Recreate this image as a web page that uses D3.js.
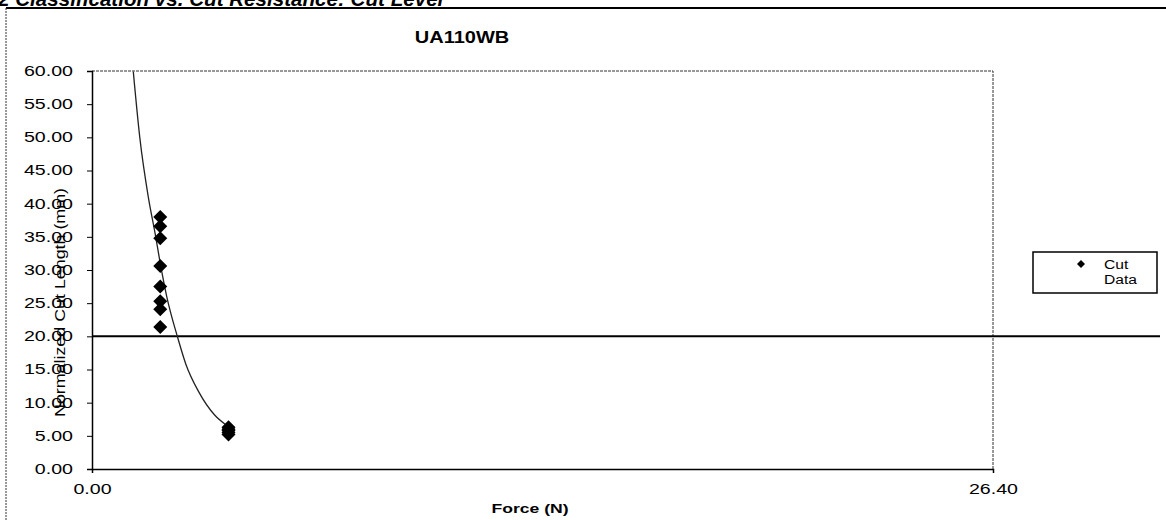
<!DOCTYPE html>
<html>
<head>
<meta charset="utf-8">
<script src="https://cdn.jsdelivr.net/npm/d3@7"></script>
<style>
  body { margin: 0; background: #fff; }
  svg { display: block; font-family: "Liberation Sans", Arial, sans-serif; }
</style>
</head>
<body>
<svg id="chart" width="1166" height="520"></svg>
<script>
// cut data
const cutForce = [2.0, 2.0, 2.0, 2.0, 2.0, 2.0, 2.0, 2.0, 4.0, 4.0, 4.0, 4.0, 4.0];
const cutLength = [38.0, 36.6, 34.8, 30.6, 27.5, 25.3, 24.1, 21.4, 6.3, 6.0, 5.8, 5.5, 5.2];

// fitted curve, points
const fitForce = [1.21, 1.4, 1.65, 1.85, 2.0, 2.19, 2.5, 2.75, 3.12, 3.6, 3.94];
const fitLength = [59.9, 50.0, 41.0, 35.5, 31.0, 26.0, 20.0, 15.8, 11.7, 8.1, 6.6];

const yTicks = [0, 5, 10, 15, 20, 25, 30, 35, 40, 45, 50, 55, 60];
const xTicks = [0, 26.4];
const threshold = 20;

const svg = d3.select("#chart");
const plot = { left: 92, top: 71, right: 993, bottom: 469 };

const x = d3.scaleLinear().domain([0, 26.4]).range([plot.left, plot.right]);
const y = d3.scaleLinear().domain([0, 60]).range([plot.bottom, plot.top]);

// stretch text horizontally like the scanned page
function stretch(sel, k) {
  sel.each(function() {
    const w = this.getComputedTextLength();
    this.setAttribute("textLength", w * k);
    this.setAttribute("lengthAdjust", "spacingAndGlyphs");
  });
}

// page header, cut off at the top like the scan
svg.append("text")
  .attr("x", -2).attr("y", 6)
  .attr("font-size", 20).attr("font-weight", "bold").attr("font-style", "italic")
  .text("2 Classification  vs. Cut Resistance:  Cut Level")
  .call(stretch, 1.03);

// outer frame
svg.append("line").attr("x1", 6).attr("x2", 1166).attr("y1", 8).attr("y2", 8)
  .attr("stroke", "#000").attr("stroke-width", 2);
svg.append("line").attr("x1", 6).attr("x2", 6).attr("y1", 8).attr("y2", 520)
  .attr("stroke", "#333").attr("stroke-dasharray", "2,1");

// plot frame (top and right)
svg.append("path")
  .attr("d", `M${plot.left},${plot.top}H${plot.right}V${plot.bottom}`)
  .attr("fill", "none").attr("stroke", "#333").attr("stroke-dasharray", "3,1");

// title
svg.append("text")
  .attr("x", 462).attr("y", 43)
  .attr("text-anchor", "middle")
  .attr("font-size", 16).attr("font-weight", "bold")
  .text("UA110WB")
  .call(stretch, 1.25);

// axes
const yAxis = svg.append("g")
  .attr("transform", `translate(${plot.left},0)`)
  .call(d3.axisLeft(y).tickValues(yTicks).tickFormat(d3.format(".2f")).tickSize(5).tickPadding(14));
yAxis.select(".domain").attr("stroke-width", 1.5);
yAxis.selectAll("text").attr("font-size", 14).attr("fill", "#000").call(stretch, 1.4);

const xAxis = svg.append("g")
  .attr("transform", `translate(0,${plot.bottom})`)
  .call(d3.axisBottom(x).tickValues(xTicks).tickFormat(d3.format(".2f")).tickSize(4).tickPadding(11));
xAxis.select(".domain").attr("stroke-width", 1.5);
xAxis.selectAll("text").attr("font-size", 14).attr("fill", "#000").call(stretch, 1.4);
svg.selectAll(".domain, .tick line").attr("stroke", "#000");

// axis titles
svg.append("text")
  .attr("x", 530).attr("y", 513)
  .attr("text-anchor", "middle")
  .attr("font-size", 13).attr("font-weight", "bold")
  .text("Force (N)")
  .call(stretch, 1.35);

svg.append("text")
  .attr("transform", "translate(65,417) rotate(-90)")
  .attr("font-size", 15)
  .attr("textLength", 229).attr("lengthAdjust", "spacingAndGlyphs")
  .text("Normalized Cut Length (mm)");

// threshold line
svg.append("line")
  .attr("x1", x(0)).attr("x2", 1160)
  .attr("y1", y(threshold)).attr("y2", y(threshold))
  .attr("stroke", "#000").attr("stroke-width", 2);

// fitted curve
const fit = fitForce.map((f, i) => [f, fitLength[i]]);
svg.append("path")
  .datum(fit)
  .attr("fill", "none").attr("stroke", "#222").attr("stroke-width", 1.3)
  .attr("d", d3.line().x(d => x(d[0])).y(d => y(d[1])).curve(d3.curveMonotoneX));

// diamonds
const diamond = "M0,-7L7,0L0,7L-7,0Z";
svg.append("g").selectAll("path")
  .data(cutForce.map((f, i) => ({ force: f, len: cutLength[i] })))
  .join("path")
  .attr("d", diamond)
  .attr("transform", d => `translate(${x(d.force)},${y(d.len)})`)
  .attr("fill", "#000");

// legend
const legend = svg.append("g").attr("transform", "translate(1033,252)");
legend.append("rect").attr("width", 124).attr("height", 41)
  .attr("fill", "#fff").attr("stroke", "#000").attr("stroke-width", 1.5);
legend.append("path").attr("d", "M0,-4L4,0L0,4L-4,0Z").attr("transform", "translate(48,12)");
legend.append("text").attr("x", 71).attr("y", 17).attr("font-size", 12).text("Cut").call(stretch, 1.3);
legend.append("text").attr("x", 71).attr("y", 32).attr("font-size", 12).text("Data").call(stretch, 1.3);
</script>
</body>
</html>
